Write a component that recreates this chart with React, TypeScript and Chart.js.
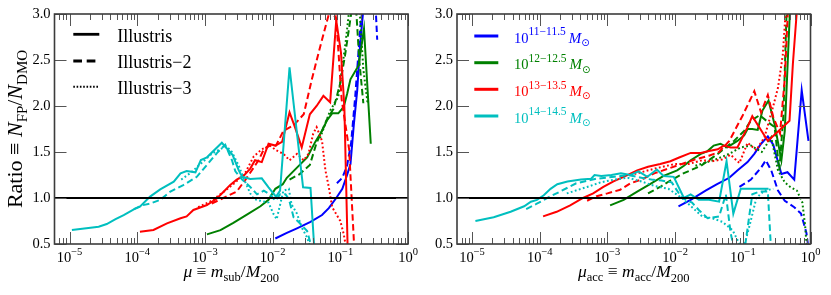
import React, { useEffect, useRef } from 'react';
import { Chart, registerables } from 'chart.js';

Chart.register(...registerables);

type Pt = [number, number]; // [log10(mu), ratio]

const W = 831;
const H = 295;
const X_MIN = 6e-6;
const X_MAX = 1;
const Y_MIN = 0.5;
const Y_MAX = 3.0;
const yTickValues = [0.5, 1.0, 1.5, 2.0, 2.5, 3.0];
const xDecades = [-5, -4, -3, -2, -1, 0];
const referenceRatio = 1.0;
const massColors = ['#0000ff', '#008000', '#ff0000', '#00bfbf'];
const massLabels = ['11−11.5', '12−12.5', '13−13.5', '14−14.5'];
const simLabels = ['Illustris', 'Illustris−2', 'Illustris−3'];

// ---------- Left panel: mu = m_sub / M200 ----------
const leftBlueSolid: Pt[] = [[-1.96,0.56],[-1.79,0.62],[-1.64,0.67],[-1.44,0.74],[-1.27,0.815],[-1.17,0.89],[-1.06,1.0],[-0.97,1.1],[-0.9,1.25],[-0.85,1.37],[-0.8,1.8],[-0.75,2.17],[-0.71,2.64],[-0.66,3.05]];
const leftBlueDashed: Pt[] = [[-1.05,1.16],[-0.97,1.22],[-0.9,1.35],[-0.84,1.6],[-0.78,2.1],[-0.7,2.9],[-0.6,3.4],[-0.48,3.1],[-0.455,2.72]];
const leftBlueDotted: Pt[] = [];
const leftGreenSolid: Pt[] = [[-2.97,0.605],[-2.77,0.65],[-2.58,0.73],[-2.38,0.82],[-2.18,0.91],[-2.06,0.98],[-1.96,1.1],[-1.85,1.15],[-1.79,1.22],[-1.64,1.33],[-1.49,1.44],[-1.37,1.61],[-1.27,1.73],[-1.2,1.84],[-1.12,1.92],[-1.03,1.92],[-0.95,1.99],[-0.9,2.13],[-0.85,2.29],[-0.73,2.44],[-0.65,2.84],[-0.55,1.59]];
const leftGreenDashed: Pt[] = [[-1.75,1.2],[-1.6,1.26],[-1.45,1.36],[-1.35,1.6],[-1.2,1.85],[-1.1,1.97],[-1.0,2.25],[-0.93,2.55],[-0.85,2.95],[-0.82,3.1],[-0.77,3.1],[-0.72,2.5],[-0.66,2.03]];
const leftGreenDotted: Pt[] = [[-1.3,1.65],[-1.15,1.95],[-1.03,2.1],[-0.92,2.7],[-0.86,3.1],[-0.72,3.1],[-0.66,2.4],[-0.6,2.05],[-0.57,2.04]];
const leftRedSolid: Pt[] = [[-3.96,0.634],[-3.76,0.652],[-3.56,0.725],[-3.36,0.78],[-3.27,0.8],[-3.17,0.87],[-2.97,0.924],[-2.82,0.997],[-2.72,1.07],[-2.63,1.14],[-2.53,1.2],[-2.43,1.24],[-2.33,1.32],[-2.26,1.41],[-2.16,1.39],[-2.06,1.59],[-1.96,1.57],[-1.86,1.61],[-1.75,1.93],[-1.67,1.77],[-1.57,1.55],[-1.45,1.91],[-1.35,2.0],[-1.25,2.11],[-1.15,2.04],[-1.06,2.93],[-0.99,2.58],[-0.94,1.99],[-0.89,0.4]];
const leftRedDashed: Pt[] = [[-2.9,0.94],[-2.67,1.02],[-2.53,1.07],[-2.4,1.2],[-2.28,1.33],[-2.2,1.42],[-2.13,1.53],[-2.04,1.57],[-1.95,1.57],[-1.84,1.73],[-1.69,1.79],[-1.54,1.91],[-1.42,2.29],[-1.32,2.58],[-1.22,2.86],[-1.15,3.05],[-1.06,2.95],[-0.98,2.07],[-0.87,1.53],[-0.79,0.4]];
const leftRedDotted: Pt[] = [[-3.1,0.9],[-2.9,0.97],[-2.7,1.08],[-2.55,1.17],[-2.4,1.28],[-2.28,1.45],[-2.16,1.53],[-2.04,1.57],[-1.95,1.52],[-1.84,1.48],[-1.75,1.41],[-1.64,1.48],[-1.54,1.41],[-1.47,1.48],[-1.4,1.7],[-1.35,1.77],[-1.27,1.62],[-1.22,1.3],[-1.17,1.12],[-1.12,0.9],[-1.0,0.75],[-0.95,0.61],[-0.9,0.4]];
const leftCyanSolid: Pt[] = [[-4.965,0.652],[-4.69,0.677],[-4.57,0.688],[-4.45,0.717],[-4.32,0.77],[-4.2,0.815],[-4.05,0.877],[-3.96,0.905],[-3.81,1.015],[-3.66,1.094],[-3.46,1.177],[-3.36,1.268],[-3.27,1.293],[-3.14,1.279],[-3.06,1.413],[-2.97,1.442],[-2.75,1.6],[-2.59,1.467],[-2.5,1.3],[-2.45,1.23],[-2.33,1.207],[-2.16,1.214],[-2.06,1.116],[-1.95,1.014],[-1.89,1.08],[-1.75,2.42],[-1.55,1.116],[-1.44,1.109],[-1.38,0.4]];
const leftCyanDashed: Pt[] = [[-4.05,0.88],[-3.93,0.92],[-3.81,0.94],[-3.66,0.98],[-3.51,1.07],[-3.32,1.14],[-3.12,1.23],[-2.97,1.36],[-2.82,1.49],[-2.7,1.58],[-2.6,1.41],[-2.55,1.29],[-2.45,1.2],[-2.33,1.12],[-2.23,1.04],[-2.13,1.08],[-2.04,1.04],[-1.96,0.97],[-1.89,1.04],[-1.81,1.04],[-1.76,0.99],[-1.69,0.79],[-1.59,0.72],[-1.49,0.64],[-1.4,0.4]];
const leftCyanDotted: Pt[] = [[-3.35,1.2],[-3.2,1.28],[-3.05,1.38],[-2.9,1.48],[-2.75,1.54],[-2.68,1.56],[-2.6,1.5],[-2.5,1.35],[-2.42,1.2],[-2.33,1.05],[-2.28,0.99],[-2.18,0.97],[-2.06,0.95],[-1.99,0.83],[-1.94,0.77],[-1.84,1.08],[-1.76,1.1],[-1.72,0.93],[-1.64,0.83],[-1.57,0.68],[-1.49,0.57],[-1.42,0.4]];

// ---------- Right panel: mu_acc = m_acc / M200 ----------
const rightBlueSolid: Pt[] = [[-1.95,0.91],[-1.77,0.98],[-1.55,1.08],[-1.38,1.15],[-1.2,1.22],[-1.08,1.3],[-0.93,1.39],[-0.83,1.48],[-0.73,1.59],[-0.63,1.67],[-0.55,1.58],[-0.43,1.26],[-0.34,1.28],[-0.24,1.2],[-0.13,2.17],[-0.03,1.62]];
const rightBlueDashed: Pt[] = [[-1.05,1.12],[-0.88,1.2],[-0.73,1.33],[-0.66,1.41],[-0.58,1.3],[-0.48,1.08],[-0.38,0.97],[-0.24,0.9],[-0.14,0.83],[-0.06,0.62],[-0.03,0.45]];
const rightBlueDotted: Pt[] = [];
const rightGreenSolid: Pt[] = [[-2.96,0.92],[-2.76,0.98],[-2.56,1.07],[-2.37,1.15],[-2.17,1.24],[-1.97,1.3],[-1.87,1.35],[-1.77,1.41],[-1.62,1.48],[-1.52,1.51],[-1.43,1.57],[-1.33,1.59],[-1.23,1.55],[-1.08,1.62],[-0.98,1.68],[-0.93,1.75],[-0.86,1.75],[-0.78,1.74],[-0.71,1.95],[-0.62,2.06],[-0.53,1.8],[-0.43,1.41],[-0.38,1.73],[-0.31,2.93],[-0.3,3.05]];
const rightGreenDashed: Pt[] = [[-2.4,1.05],[-2.2,1.13],[-2.07,1.19],[-1.87,1.27],[-1.62,1.35],[-1.37,1.48],[-1.13,1.62],[-0.98,1.73],[-0.88,1.84],[-0.75,1.9],[-0.62,1.82],[-0.53,1.77],[-0.46,1.3],[-0.4,1.9],[-0.35,3.1]];
const rightGreenDotted: Pt[] = [[-1.7,1.35],[-1.4,1.42],[-1.2,1.48],[-1.03,1.55],[-0.88,1.57],[-0.72,1.5],[-0.58,1.66],[-0.48,1.3],[-0.38,1.17],[-0.3,1.12],[-0.2,1.08],[-0.12,0.95],[-0.08,0.7],[-0.05,0.42]];
const rightRedSolid: Pt[] = [[-3.95,0.8],[-3.75,0.85],[-3.55,0.92],[-3.36,1.0],[-3.21,1.05],[-3.06,1.12],[-2.91,1.18],[-2.76,1.23],[-2.56,1.3],[-2.4,1.34],[-2.22,1.37],[-2.07,1.4],[-1.94,1.44],[-1.77,1.49],[-1.62,1.49],[-1.5,1.51],[-1.37,1.53],[-1.28,1.57],[-1.18,1.55],[-1.08,1.55],[-0.93,1.77],[-0.86,1.89],[-0.63,1.62],[-0.31,1.84],[-0.26,2.46],[-0.2,3.05]];
const rightRedDashed: Pt[] = [[-3.3,0.97],[-3.16,1.02],[-3.0,1.05],[-2.81,1.09],[-2.66,1.16],[-2.5,1.2],[-2.3,1.27],[-2.1,1.32],[-1.9,1.37],[-1.7,1.42],[-1.5,1.46],[-1.35,1.5],[-1.2,1.62],[-1.0,1.9],[-0.83,2.16],[-0.73,1.93],[-0.63,2.12],[-0.55,1.88],[-0.45,1.7],[-0.38,2.3],[-0.33,3.1]];
const rightRedDotted: Pt[] = [[-2.6,1.26],[-2.3,1.32],[-2.0,1.37],[-1.8,1.37],[-1.6,1.41],[-1.45,1.4],[-1.3,1.42],[-1.18,1.47],[-1.05,1.38],[-0.93,1.6],[-0.8,1.52],[-0.68,1.66],[-0.55,2.0],[-0.48,2.2],[-0.41,2.55],[-0.36,3.1]];
const rightCyanSolid: Pt[] = [[-4.95,0.75],[-4.68,0.79],[-4.43,0.85],[-4.23,0.91],[-4.13,0.96],[-4.04,0.98],[-3.94,1.03],[-3.84,1.1],[-3.74,1.15],[-3.59,1.18],[-3.39,1.2],[-3.24,1.21],[-3.19,1.25],[-3.09,1.24],[-2.94,1.25],[-2.8,1.27],[-2.66,1.25],[-2.54,1.29],[-2.41,1.23],[-2.27,1.31],[-2.17,1.24],[-2.02,1.23],[-1.87,1.0],[-1.77,1.04],[-1.65,0.98],[-1.5,0.98],[-1.35,0.96],[-1.24,1.4],[-1.14,0.83],[-1.03,1.1],[-0.62,1.1]];
const rightCyanDashed: Pt[] = [[-4.2,0.88],[-4.05,0.935],[-3.85,1.015],[-3.7,1.07],[-3.46,1.16],[-3.16,1.21],[-2.9,1.23],[-2.7,1.25],[-2.5,1.22],[-2.35,1.2],[-2.2,1.19],[-2.05,1.17],[-1.9,1.0],[-1.75,0.95],[-1.65,0.87],[-1.52,0.78],[-1.35,0.8],[-1.25,1.04],[-1.18,0.62],[-1.1,0.35],[-1.0,0.3],[-0.86,1.04],[-0.75,1.07],[-0.63,1.07],[-0.58,0.4]];
const rightCyanDotted: Pt[] = [[-3.6,1.05],[-3.3,1.12],[-3.1,1.17],[-2.9,1.2],[-2.7,1.22],[-2.5,1.18],[-2.3,1.13],[-2.1,1.1],[-1.9,1.0],[-1.75,0.9],[-1.6,0.8],[-1.45,0.78],[-1.3,0.74],[-1.15,0.65],[-1.05,0.5],[-1.0,0.42],[-0.9,0.7],[-0.8,1.0],[-0.68,1.08],[-0.55,1.1]];

const leftGroups: Pt[][][] = [
  [leftBlueSolid, leftBlueDashed, leftBlueDotted],
  [leftGreenSolid, leftGreenDashed, leftGreenDotted],
  [leftRedSolid, leftRedDashed, leftRedDotted],
  [leftCyanSolid, leftCyanDashed, leftCyanDotted],
];
const rightGroups: Pt[][][] = [
  [rightBlueSolid, rightBlueDashed, rightBlueDotted],
  [rightGreenSolid, rightGreenDashed, rightGreenDotted],
  [rightRedSolid, rightRedDashed, rightRedDotted],
  [rightCyanSolid, rightCyanDashed, rightCyanDotted],
];

const SERIF = '"Liberation Serif", "DejaVu Serif", serif';
const DASHES: number[][] = [[], [6.5, 3.5], [1.8, 2.4]];
const LEGEND_DASHES: number[][] = [[], [8.7, 4.7], [1.6, 1.7]];

type Run = { t: string; f: string; dy?: number; gap?: number };

function runsWidth(ctx: CanvasRenderingContext2D, runs: Run[]) {
  let w = 0;
  for (const r of runs) {
    ctx.font = r.f;
    w += ctx.measureText(r.t).width + (r.gap || 0);
  }
  return w;
}

function drawRuns(ctx: CanvasRenderingContext2D, runs: Run[], x: number, y: number, align: 'left' | 'center' | 'right', color: string) {
  const w = runsWidth(ctx, runs);
  let cx = align === 'left' ? x : align === 'center' ? x - w / 2 : x - w;
  ctx.fillStyle = color;
  ctx.textAlign = 'left';
  ctx.textBaseline = 'alphabetic';
  for (const r of runs) {
    cx += r.gap || 0;
    ctx.font = r.f;
    ctx.fillText(r.t, cx, y + (r.dy || 0));
    cx += ctx.measureText(r.t).width;
  }
}

const rm = (s: number) => `${s}px ${SERIF}`;
const it = (s: number) => `italic ${s}px ${SERIF}`;

type PanelCfg = {
  area: { left: number; right: number; top: number; bottom: number };
  groups: Pt[][][];
  xTitle: Run[];
  yTitle: Run[] | null;
  legend: 'sims' | 'mass';
};

const leftCfg: PanelCfg = {
  area: { left: 54.5, right: 408, top: 14, bottom: 244 },
  groups: leftGroups,
  xTitle: [
    { t: 'μ', f: it(17.5) },
    { t: ' ≡ ', f: rm(17.5) },
    { t: 'm', f: it(17.5) },
    { t: 'sub', f: rm(12.5), dy: 4 },
    { t: '/', f: rm(17.5) },
    { t: 'M', f: it(17.5) },
    { t: '200', f: rm(12.5), dy: 4.5 },
  ],
  yTitle: [
    { t: 'Ratio', f: rm(22) },
    { t: ' ≡ ', f: rm(22) },
    { t: 'N', f: it(22) },
    { t: 'FP', f: rm(15), dy: 4.5 },
    { t: '/', f: rm(22) },
    { t: 'N', f: it(22) },
    { t: 'DMO', f: rm(15), dy: 4.5 },
  ],
  legend: 'sims',
};

const rightCfg: PanelCfg = {
  area: { left: 457, right: 810.5, top: 14, bottom: 244 },
  groups: rightGroups,
  xTitle: [
    { t: 'μ', f: it(17.5) },
    { t: 'acc', f: rm(12.5), dy: 4 },
    { t: ' ≡ ', f: rm(17.5) },
    { t: 'm', f: it(17.5) },
    { t: 'acc', f: rm(12.5), dy: 4 },
    { t: '/', f: rm(17.5) },
    { t: 'M', f: it(17.5) },
    { t: '200', f: rm(12.5), dy: 4.5 },
  ],
  yTitle: null,
  legend: 'mass',
};

function buildDatasets(groups: Pt[][][]) {
  const ds: any[] = [];
  groups.forEach((styles, mi) => {
    styles.forEach((pts, si) => {
      if (!pts.length) return;
      ds.push({
        data: pts.map(([lg, r]) => ({ x: Math.pow(10, lg), y: r })),
        borderColor: massColors[mi],
        backgroundColor: massColors[mi],
        borderDash: DASHES[si],
        borderWidth: 2,
        pointRadius: 0,
        tension: 0,
        fill: false,
        clip: 0,
      });
    });
  });
  ds.push({
    data: [{ x: X_MIN, y: referenceRatio }, { x: X_MAX, y: referenceRatio }],
    borderColor: '#000000',
    borderWidth: 2.2,
    pointRadius: 0,
    fill: false,
    clip: 0,
  });
  ds.forEach((d, i) => { d.order = ds.length - i; });
  return ds;
}

function makeDecorPlugin(cfg: PanelCfg) {
  return {
    id: 'decor',
    afterDraw(chart: any) {
      const ctx: CanvasRenderingContext2D = chart.ctx;
      const { left, right, top, bottom } = chart.chartArea;
      const xs = chart.scales.x;
      const ys = chart.scales.y;
      ctx.save();

      // ticks (inward)
      ctx.strokeStyle = '#555555';
      ctx.lineWidth = 1;
      ctx.setLineDash([]);
      for (let n = -6; n <= 0; n++) {
        for (let k = 1; k <= 9; k++) {
          const v = k * Math.pow(10, n);
          if (v < X_MIN * 1.0001 || v > X_MAX * 1.0001) continue;
          if (n === 0 && k > 1) continue;
          const px = Math.round(xs.getPixelForValue(v)) + 0.5;
          const len = k === 1 ? 12 : 6;
          ctx.beginPath();
          ctx.moveTo(px, bottom);
          ctx.lineTo(px, bottom - len);
          ctx.moveTo(px, top);
          ctx.lineTo(px, top + len);
          ctx.stroke();
        }
      }
      for (const v of yTickValues) {
        const py = Math.round(ys.getPixelForValue(v)) + 0.5;
        ctx.beginPath();
        ctx.moveTo(left, py);
        ctx.lineTo(left + 12, py);
        ctx.moveTo(right, py);
        ctx.lineTo(right - 12, py);
        ctx.stroke();
      }

      // frame
      ctx.strokeStyle = '#3c3c3c';
      ctx.lineWidth = 1.6;
      ctx.strokeRect(left, top, right - left, bottom - top);

      // y tick labels
      ctx.fillStyle = '#000';
      ctx.font = rm(14.5);
      ctx.textAlign = 'right';
      ctx.textBaseline = 'middle';
      for (const v of yTickValues) {
        ctx.fillText(v.toFixed(1), left - 4, ys.getPixelForValue(v) + 0.5);
      }

      // x tick labels 10^n
      for (const n of xDecades) {
        const px = xs.getPixelForValue(Math.pow(10, n));
        const runs: Run[] = [
          { t: '10', f: rm(14.5) },
          { t: n < 0 ? '−' + Math.abs(n) : String(n), f: rm(10.5), dy: -7 },
        ];
        drawRuns(ctx, runs, px, 262, 'center', '#000');
      }

      // axis titles
      drawRuns(ctx, cfg.xTitle, (left + right) / 2, 277, 'center', '#000');
      if (cfg.yTitle) {
        ctx.save();
        ctx.translate(22, (top + bottom) / 2);
        ctx.rotate(-Math.PI / 2);
        drawRuns(ctx, cfg.yTitle, 0, 0, 'center', '#000');
        ctx.restore();
      }

      // legends
      if (cfg.legend === 'sims') {
        const ys0 = [34.3, 61, 86.7];
        simLabels.forEach((lab, i) => {
          ctx.strokeStyle = '#000';
          ctx.lineWidth = i === 2 ? 2 : 2.8;
          ctx.setLineDash(LEGEND_DASHES[i]);
          ctx.beginPath();
          ctx.moveTo(73.3, ys0[i]);
          ctx.lineTo(99.3, ys0[i]);
          ctx.stroke();
          ctx.setLineDash([]);
          drawRuns(ctx, [{ t: lab, f: rm(18) }], 117.3, ys0[i] + 7.2, 'left', '#000');
        });
      } else {
        const ys0 = [36, 62.7, 89.3, 116];
        massLabels.forEach((lab, i) => {
          ctx.strokeStyle = massColors[i];
          ctx.lineWidth = 3;
          ctx.setLineDash([]);
          ctx.beginPath();
          ctx.moveTo(474.3, ys0[i]);
          ctx.lineTo(498.3, ys0[i]);
          ctx.stroke();
          drawRuns(ctx, [
            { t: '10', f: rm(14.5) },
            { t: lab, f: rm(11.5), dy: -7.4 },
            { t: 'M', f: it(15), gap: 3 },
            { t: '⊙', f: `10px "DejaVu Sans", sans-serif`, dy: 3.3 },
          ], 514, ys0[i] + 6.7, 'left', massColors[i]);
        });
      }
      ctx.restore();
    },
  };
}

function Panel({ cfg }: { cfg: PanelCfg }) {
  const ref = useRef<HTMLCanvasElement>(null);
  useEffect(() => {
    const canvas = ref.current;
    if (!canvas) return;
    const chart = new Chart(canvas, {
      type: 'line',
      data: { datasets: buildDatasets(cfg.groups) },
      options: {
        responsive: false,
        animation: false,
        devicePixelRatio: 1,
        events: [],
        layout: {
          padding: {
            left: cfg.area.left,
            right: W - cfg.area.right,
            top: cfg.area.top,
            bottom: H - cfg.area.bottom,
          },
        },
        plugins: { legend: { display: false }, tooltip: { enabled: false } },
        scales: {
          x: { type: 'logarithmic', min: X_MIN, max: X_MAX, display: false },
          y: { type: 'linear', min: Y_MIN, max: Y_MAX, display: false },
        },
      } as any,
      plugins: [makeDecorPlugin(cfg)],
    });
    return () => chart.destroy();
  }, [cfg]);
  return (
    <canvas
      ref={ref}
      width={W}
      height={H}
      style={{ position: 'absolute', left: 0, top: 0, width: W, height: H }}
    />
  );
}

export default function App() {
  return (
    <div style={{ position: 'absolute', left: 0, top: 0, width: W, height: H, background: '#ffffff' }}>
      <Panel cfg={leftCfg} />
      <Panel cfg={rightCfg} />
    </div>
  );
}
